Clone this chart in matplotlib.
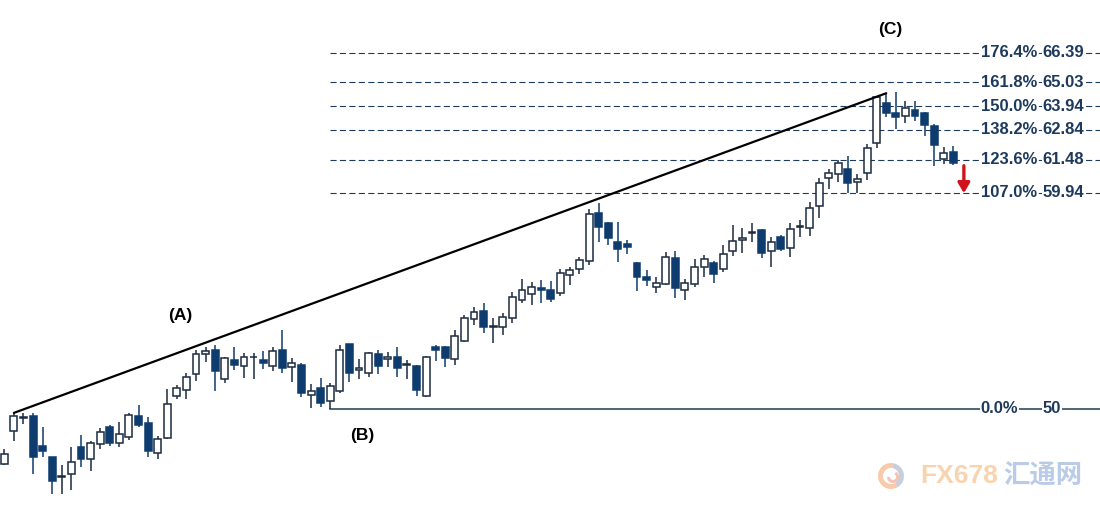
import numpy as np
import matplotlib.pyplot as plt
from matplotlib.patches import Wedge

# daily candles, values
opens = [47.45, 48.99, 49.59, 49.68, 48.30, 47.79, 46.87, 46.99, 48.24, 47.69,
         48.39, 49.16, 48.42, 48.70, 49.68, 49.34, 47.96, 48.65, 50.60, 50.87,
         51.60, 52.54, 52.72, 51.37, 52.25, 51.98, 52.37, 52.25, 51.98, 52.72,
         51.92, 52.02, 50.63, 50.95, 50.39, 50.84, 52.98, 51.79, 51.67, 52.53,
         52.29, 52.38, 52.01, 51.98, 50.60, 52.84, 52.84, 52.29, 53.14, 54.13,
         54.51, 53.77, 53.76, 54.17, 55.02, 55.28, 55.55, 55.48, 55.32, 56.17,
         56.46, 56.82, 59.01, 58.55, 57.67, 57.59, 56.73, 56.06, 55.63, 55.74,
         56.94, 55.48, 55.74, 56.52, 56.73, 56.43, 57.27, 57.78, 58.12, 58.24,
         57.28, 57.90, 57.40, 58.39, 58.35, 59.32, 60.62, 60.83, 61.03, 60.45,
         60.85, 62.23, 64.07, 63.61, 63.48, 63.76, 63.60, 63.02, 61.50, 61.83]
closes = [47.93, 49.68, 49.63, 47.79, 48.08, 46.70, 46.89, 47.55, 47.71, 48.42,
          48.93, 48.42, 48.84, 49.71, 49.28, 48.05, 48.61, 50.23, 50.95, 51.46,
          52.52, 52.67, 51.76, 52.33, 52.01, 52.41, 52.39, 52.13, 52.68, 51.87,
          52.10, 50.72, 50.83, 50.26, 51.06, 52.72, 51.64, 51.89, 52.59, 51.99,
          52.39, 51.87, 52.02, 50.87, 52.38, 52.72, 52.33, 53.36, 54.17, 54.46,
          53.76, 53.80, 54.25, 55.14, 55.48, 55.60, 55.46, 55.08, 56.24, 56.40,
          56.86, 58.97, 58.39, 57.86, 57.38, 57.47, 56.09, 55.94, 55.78, 56.98,
          55.58, 55.78, 56.55, 56.89, 56.20, 57.13, 57.75, 57.87, 58.15, 57.20,
          57.70, 57.34, 58.27, 58.42, 59.23, 60.39, 60.85, 61.31, 60.41, 60.57,
          62.00, 64.37, 63.61, 63.45, 63.87, 63.48, 63.09, 62.13, 61.80, 61.31]
highs = [48.16, 49.82, 49.82, 49.83, 49.17, 47.79, 47.42, 48.27, 48.80, 48.53,
         49.11, 49.26, 49.42, 49.80, 50.18, 49.65, 48.76, 50.91, 51.10, 51.67,
         52.72, 52.87, 52.95, 52.38, 52.87, 52.56, 52.56, 52.68, 52.84, 53.64,
         52.33, 52.12, 51.15, 51.41, 51.18, 52.95, 53.01, 52.29, 52.64, 52.72,
         52.64, 52.87, 52.25, 52.02, 52.44, 52.95, 52.90, 53.64, 54.33, 54.68,
         54.89, 54.17, 54.43, 55.40, 55.97, 55.83, 55.94, 55.90, 56.43, 56.55,
         57.01, 59.19, 59.49, 58.59, 58.59, 57.78, 56.78, 56.40, 56.06, 57.24,
         57.28, 55.97, 56.90, 57.09, 56.81, 57.55, 58.47, 58.32, 58.54, 58.28,
         57.90, 58.01, 58.55, 58.70, 59.54, 60.62, 61.03, 61.44, 61.64, 60.81,
         62.18, 64.40, 64.53, 64.60, 64.19, 64.19, 63.68, 63.12, 62.06, 62.08]
lows = [47.42, 48.53, 49.31, 47.01, 47.79, 46.09, 46.09, 46.27, 47.33, 47.16,
        48.15, 48.30, 48.24, 48.57, 49.19, 47.80, 47.69, 48.64, 50.45, 50.45,
        51.30, 52.18, 50.84, 51.18, 51.79, 51.41, 51.37, 51.83, 51.76, 51.64,
        51.26, 50.54, 50.03, 50.11, 50.00, 50.75, 51.26, 51.37, 51.46, 51.61,
        51.92, 51.49, 51.37, 50.60, 50.57, 52.21, 51.95, 52.02, 53.10, 53.87,
        53.51, 53.02, 53.41, 53.97, 54.86, 54.79, 54.86, 54.94, 55.20, 55.71,
        56.21, 56.63, 57.70, 57.55, 56.78, 57.12, 55.44, 55.66, 55.32, 55.71,
        55.09, 55.02, 55.63, 56.09, 55.81, 56.32, 57.04, 57.18, 57.70, 56.95,
        56.55, 57.25, 57.01, 57.92, 57.96, 58.78, 60.11, 60.46, 59.95, 59.95,
        60.54, 62.00, 63.42, 62.87, 63.18, 63.27, 62.56, 61.16, 61.27, 61.25]

fib_pct = ['176.4%', '161.8%', '150.0%', '138.2%', '123.6%', '107.0%', '0.0%']
fib_val = [66.39, 65.03, 63.94, 62.84, 61.48, 59.94, 50.0]
fib_txt = ['66.39', '65.03', '63.94', '62.84', '61.48', '59.94', '50']

point_a = 1    # start of trend line
point_b = 34   # low (B)
point_c = 92   # high (C)

navy = '#0e3c6e'
edge = '#1b2b40'
lblc = '#1d3a5c'

fig = plt.figure(figsize=(11, 5.11), dpi=100)
ax = fig.add_axes([0, 0, 1, 1])

x = np.arange(len(opens))
o = np.array(opens)
c = np.array(closes)
up = c >= o

ax.vlines(x, lows, highs, color=np.where(up, edge, navy), lw=1.1, zorder=2)
body = np.where(np.abs(c - o) < 0.04, 0.04, c - o)
ax.bar(x[up], body[up], bottom=o[up], width=0.72, color='white',
       edgecolor=edge, lw=1.1, zorder=3)
ax.bar(x[~up], body[~up], bottom=o[~up], width=0.72, color=navy,
       edgecolor=navy, lw=1.1, zorder=3)

# trend line A -> C
ax.plot([point_a, point_c], [highs[point_a], highs[point_c]], color='black',
        lw=1.6, zorder=4, solid_capstyle='round')

xmax = 114.3
trans = ax.get_yaxis_transform()
for p, v, t in zip(fib_pct, fib_val, fib_txt):
    if p == '0.0%':
        ax.plot([point_b, xmax], [v, v], color='#1f3b4f', lw=1.1, zorder=1)
    else:
        ax.plot([point_b, xmax], [v, v], color=lblc, lw=0.8,
                dashes=(5.5, 3), zorder=1)
    bb = dict(facecolor='white', edgecolor='none', pad=0.5)
    ax.text(0.8915, v, p, transform=trans, ha='left', va='center',
            fontsize=12, fontweight='heavy', family='Liberation Sans',
            color=lblc, bbox=bb, zorder=5)
    ax.text(0.948, v, t, transform=trans, ha='left', va='center',
            fontsize=12, fontweight='heavy', family='Liberation Sans',
            color=lblc, bbox=bb, zorder=5)

for lab, xi, yi in [('(A)', 18.4, 54.28), ('(B)', 37.3, 48.80), ('(C)', 92.4, 67.44)]:
    ax.text(xi, yi, lab, ha='center', va='center', fontsize=12.5,
            fontweight='bold', family='Liberation Sans', color='black')

# red arrow
ax.annotate('', xy=(100.1, 59.80), xytext=(100.1, 61.32),
            arrowprops=dict(arrowstyle='-|>,head_width=0.35,head_length=0.6',
                            color='#d0121b', lw=2.4))

# watermark
fig.patches.append(Wedge((8.91, 0.35), 0.13, 80, 300, width=0.05,
                         facecolor='#f6bf95', edgecolor='none',
                         transform=fig.dpi_scale_trans, alpha=0.8))
fig.patches.append(Wedge((8.91, 0.35), 0.13, 300, 440, width=0.05,
                         facecolor='#b7c3d6', edgecolor='none',
                         transform=fig.dpi_scale_trans, alpha=0.8))
fig.patches.append(Wedge((8.93, 0.34), 0.06, 180, 420, width=0.03,
                         facecolor='#f3b3a0', edgecolor='none',
                         transform=fig.dpi_scale_trans, alpha=0.8))
fig.text(0.8365, 0.068, 'FX678', fontsize=19, color='#f9cfa4',
         family='Liberation Sans', fontweight='bold', va='center', ha='left',
         alpha=0.9)
fig.text(0.912, 0.068, '汇通网', fontsize=19, color='#b2c6e4',
         family=['Noto Sans CJK SC', 'DejaVu Sans'], fontweight='bold',
         va='center', ha='left', alpha=0.9)

ax.set_xlim(-0.449, xmax)
ax.set_ylim(45.306, 68.82)
ax.axis('off')
fig.savefig('out.png', dpi=100, facecolor='white')
